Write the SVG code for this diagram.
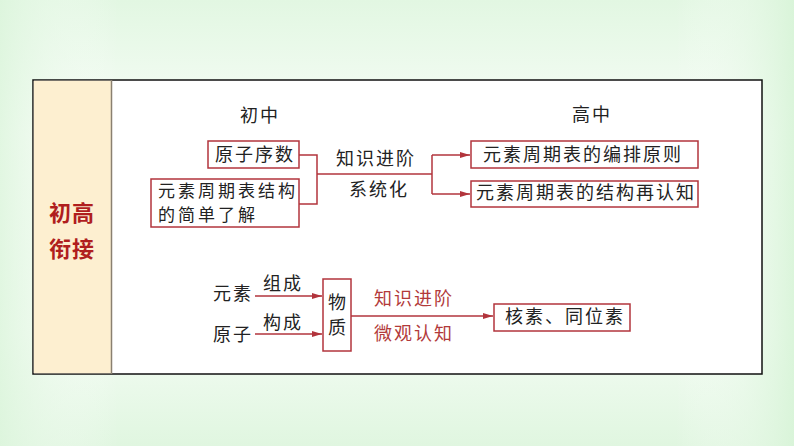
<svg xmlns="http://www.w3.org/2000/svg" width="794" height="446" viewBox="0 0 794 446">
<defs>
<linearGradient id="bgv" x1="0" y1="0" x2="0" y2="1">
<stop offset="0" stop-color="#e2f7e2"/>
<stop offset="0.3" stop-color="#f8fdf8"/>
<stop offset="0.75" stop-color="#f3fcf3"/>
<stop offset="1" stop-color="#e0f6e0"/>
</linearGradient>
<linearGradient id="bgh" x1="0" y1="0" x2="1" y2="0">
<stop offset="0" stop-color="#dcf5dc" stop-opacity="0.8"/>
<stop offset="0.15" stop-color="#ffffff" stop-opacity="0"/>
<stop offset="0.85" stop-color="#ffffff" stop-opacity="0"/>
<stop offset="1" stop-color="#d8f4d8" stop-opacity="0.9"/>
</linearGradient>
<marker id="ah" viewBox="0 0 10 6" refX="10" refY="3" markerWidth="10" markerHeight="6" markerUnits="userSpaceOnUse" orient="auto">
<path d="M0,0 L10,3 L0,6 Z" fill="#b2343c"/>
</marker>
<style>
.t{font-family:"Noto Sans CJK SC","Noto Sans",sans-serif;font-size:18px;letter-spacing:2px;fill:#222222}
.s{font-size:17px;letter-spacing:3px}
.r{fill:#b23a3a}
.box{fill:#ffffff;stroke:#b2343c;stroke-width:1.5}
.ln{fill:none;stroke:#b2343c;stroke-width:1.5}
.title{font-family:"Noto Sans CJK SC","Noto Sans",sans-serif;font-size:22px;font-weight:bold;fill:#b01e1e;letter-spacing:1px}
</style>
</defs>
<rect x="0" y="0" width="794" height="446" fill="url(#bgv)"/>
<rect x="0" y="0" width="794" height="446" fill="url(#bgh)"/>
<g id="table">
<rect x="33" y="80" width="729" height="294" fill="#ffffff" stroke="#111111" stroke-width="1.5"/>
<rect x="33.75" y="80.75" width="77.5" height="292.5" fill="#fdefd0"/>
<line x1="111.5" y1="80" x2="111.5" y2="374" stroke="#8a8070" stroke-width="1.5"/>
</g>
<g id="title">
<text class="title" x="49" y="221">初高</text>
<text class="title" x="49" y="257">衔接</text>
</g>
<g id="connectors">
<path class="ln" d="M299,155 H317 V204 H299"/>
<path class="ln" d="M317,174 H432"/>
<path class="ln" d="M432,155 V194"/>
<path class="ln" d="M432,155 H470" marker-end="url(#ah)"/>
<path class="ln" d="M432,194 H470" marker-end="url(#ah)"/>
<path class="ln" d="M255,296 H322" marker-end="url(#ah)"/>
<path class="ln" d="M255,334 H322" marker-end="url(#ah)"/>
<path class="ln" d="M351,316 H493" marker-end="url(#ah)"/>
</g>
<g id="label-chuzhong"><text class="t" x="240" y="122">初中</text></g>
<g id="label-gaozhong"><text class="t" x="572" y="121">高中</text></g>
<g id="node-yuanzixushu">
<rect class="box" x="208" y="141" width="91" height="27"/>
<text class="t" x="215" y="161">原子序数</text>
</g>
<g id="node-jiegou">
<rect class="box" x="151" y="179" width="148" height="48"/>
<text class="t s" x="158" y="197">元素周期表结构</text>
<text class="t s" x="158" y="221">的简单了解</text>
</g>
<g id="label-jinjie1">
<text class="t" x="336" y="165">知识进阶</text>
<text class="t" x="349" y="196">系统化</text>
</g>
<g id="node-bianpai">
<rect class="box" x="471" y="141" width="227" height="27"/>
<text class="t" x="483" y="161">元素周期表的编排原则</text>
</g>
<g id="node-zairenzhi">
<rect class="box" x="471" y="181" width="227" height="26"/>
<text class="t" x="476" y="199">元素周期表的结构再认知</text>
</g>
<g id="node-yuansu"><text class="t" x="213" y="300">元素</text></g>
<g id="node-yuanzi"><text class="t" x="213" y="341">原子</text></g>
<g id="label-zucheng"><text class="t" x="263" y="290">组成</text></g>
<g id="label-goucheng"><text class="t" x="263" y="329">构成</text></g>
<g id="node-wuzhi">
<rect class="box" x="323" y="279" width="28" height="72"/>
<text class="t" x="328" y="309">物</text>
<text class="t" x="328" y="334">质</text>
</g>
<g id="label-jinjie2">
<text class="t r" x="374" y="305">知识进阶</text>
<text class="t r" x="374" y="340">微观认知</text>
</g>
<g id="node-hesu">
<rect class="box" x="494" y="304" width="136" height="27"/>
<text class="t" x="505" y="323">核素、同位素</text>
</g>
</svg>
